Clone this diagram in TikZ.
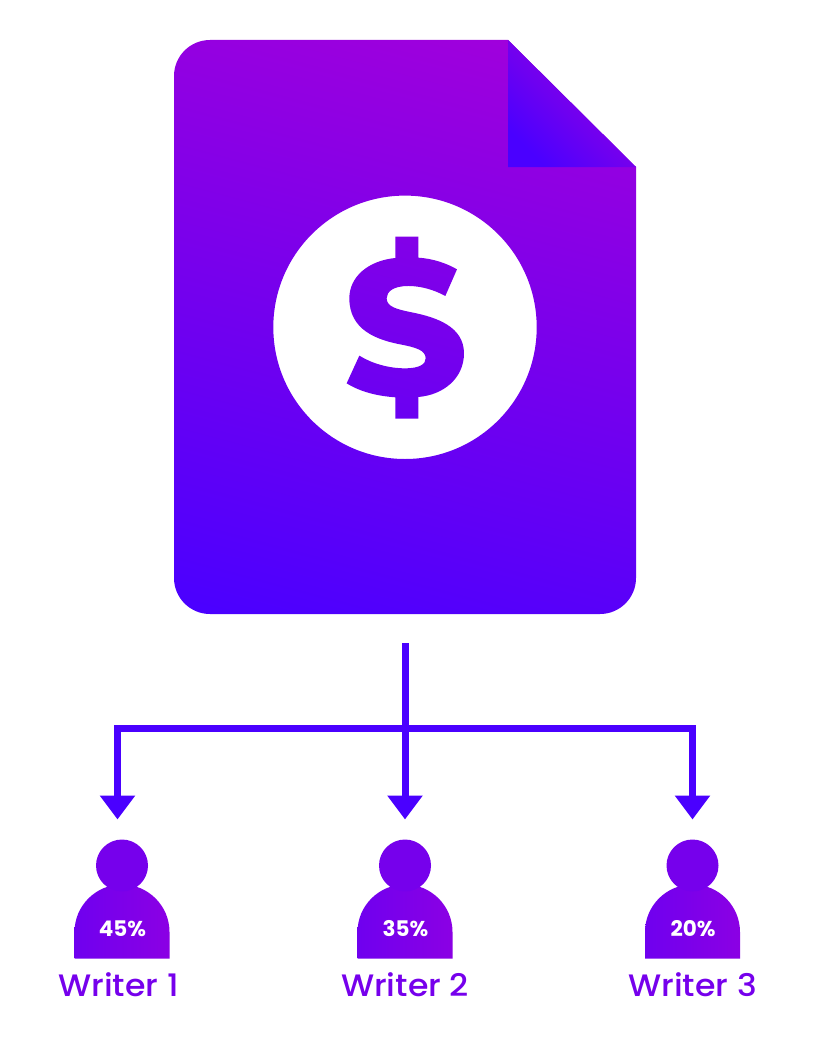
\documentclass[tikz,border=0pt]{standalone}
\usepackage{fontspec}
\usetikzlibrary{arrows.meta}
\newfontfamily\writerfont{Poppins Medium}[FakeStretch=1.07]
\newfontfamily\sharefont{Poppins Bold}
\definecolor{deepblue}{HTML}{4A00FF}
\definecolor{midviolet}{HTML}{7600EC}
\definecolor{hotviolet}{HTML}{A000DC}
\pgfdeclareverticalshading{pagefade}{100bp}{color(0bp)=(deepblue);color(20bp)=(deepblue);color(78bp)=(hotviolet);color(100bp)=(hotviolet)}
\tikzset{
  flowline/.style={draw=deepblue,line width=7pt},
  flowarrow/.style={flowline,-{Triangle[length=24pt,width=34pt]}},
  writername/.style={text=midviolet,font=\writerfont\fontsize{31}{33}\selectfont,inner sep=0pt},
  sharelabel/.style={text=white,font=\sharefont\fontsize{21.5}{24}\selectfont,inner sep=0pt},
}
\begin{document}
\begin{tikzpicture}[x=1pt,y=-1pt]
    \useasboundingbox(0,0)rectangle(817,1046);

    % page with the dollar cut out of it
    \shade[even odd rule,shading=pagefade,shading angle=-15]
        (210,614)arc[start angle=270,end angle=180,radius=36pt]--(174,76)
        arc[start angle=180,end angle=90,radius=36pt]--(508,40)--(636,167)--(636,578)
        arc[start angle=0,end angle=-90,radius=36pt]--cycle
        (405,327.3)circle[radius=131.7pt]
        [shift={(260,190)},x=0.3333pt,y=-0.3333pt]
        (591,238)--(556,318)
        ..controls(520,298)and(480,288)..(445,288)
        ..controls(400,288)and(380,305)..(380,325)
        ..controls(380,350)and(410,358)..(455,367)
        ..controls(530,382)and(612,410)..(612,490)
        ..controls(612,565)and(550,615)..(475,621)
        --(475,686)--(406,686)--(406,622)
        ..controls(350,618)and(300,605)..(260,580)
        --(298,497)
        ..controls(335,520)and(385,535)..(435,535)
        ..controls(480,535)and(497,522)..(497,505)
        ..controls(497,480)and(465,472)..(425,464)
        ..controls(350,450)and(268,420)..(268,325)
        ..controls(268,260)and(325,212)..(406,204)
        --(406,140)--(475,140)--(475,203)
        ..controls(520,206)and(560,220)..(591,238)--cycle;
    % folded corner
    \shade[left color=deepblue,right color=hotviolet,shading angle=135](508,40)--(636,167)--(508,167)--cycle;

    % connectors
    \coordinate(trunktop)at(405,643);
    \coordinate(junction)at(405,728);
    \coordinate(tipone)at(117.5,819.5);
    \coordinate(tiptwo)at(405,819.5);
    \coordinate(tipthree)at(692.5,819.5);
    \draw[flowarrow](trunktop)--(tiptwo);
    \draw[flowarrow](junction)-|(tipone);
    \draw[flowarrow](junction)-|(tipthree);

    % writers
    \foreach \px/\lx/\share/\who/\tag in {122/118.5/45/Writer 1/one,405/405/35/Writer 2/two,692.5/692.5/20/Writer 3/three}{
        \shade[left color=midviolet!85!deepblue,right color=hotviolet!50!midviolet]
            (\px-47.5,958.7)--(\px-47.5,932)arc[start angle=180,end angle=0,radius=47.5pt]--(\px+47.5,958.7)--cycle;
        \fill[midviolet](\px,865.5)circle[radius=26pt];
        \node[sharelabel](share\tag)at(\px+0.5,929){\share\%};
        \node[writername,anchor=base](name\tag)at(\lx,996){\who};
    }
\end{tikzpicture}
\end{document}
